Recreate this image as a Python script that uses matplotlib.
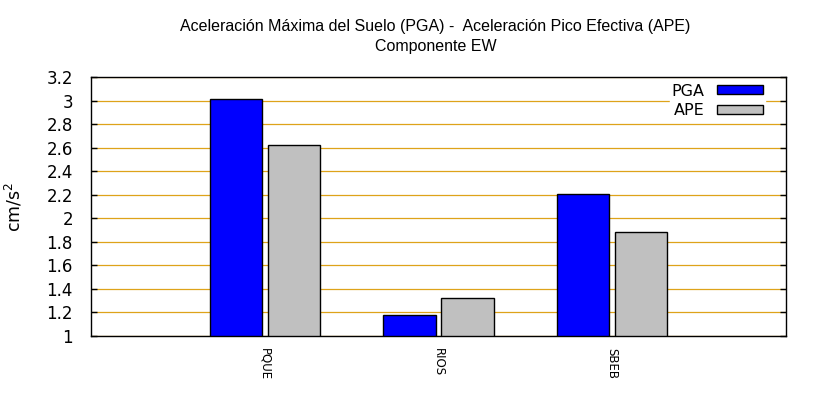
import numpy as np
import matplotlib
matplotlib.use('Agg')
import matplotlib.pyplot as plt
from matplotlib.patches import Patch

stations = ['PQUE', 'RIOS', 'SBEB']
pga = [3.01, 1.18, 2.21]
ape = [2.62, 1.32, 1.88]

fig = plt.figure(figsize=(8.2, 4), dpi=100)
ax = fig.add_axes([91/820, 1-336/400, 695/820, 259/400])

x = np.arange(1, len(stations)+1)
w = 0.3
ax.bar(x - 0.167, np.array(pga) - 1, w, bottom=1, color='#0000ff', edgecolor='black', linewidth=1, zorder=3)
ax.bar(x + 0.167, np.array(ape) - 1, w, bottom=1, color='#c0c0c0', edgecolor='black', linewidth=1, zorder=3)

ax.set_xlim(0, 4)
ax.set_ylim(1, 3.2)
yt = np.round(np.arange(1, 3.21, 0.2), 1)
ax.set_yticks(yt)
ax.set_yticklabels(['%g' % v for v in yt], fontsize=12)
ax.tick_params(axis='y', direction='in', length=4, width=1, right=True, pad=13)
ax.set_xticks(x)
ax.set_xticklabels(stations, rotation=-90, fontsize=8.5, va='top', ha='center')
ax.tick_params(axis='x', length=0, pad=9)
ax.yaxis.grid(True, color='#dea31a', linewidth=0.9, zorder=0)
ax.set_axisbelow(True)
for s in ax.spines.values():
    s.set_linewidth(1)

ax.set_ylabel('cm/s$^2$', fontsize=12.5, labelpad=16)

fig.text(0.531, 1-27/400, u'Aceleración Máxima del Suelo (PGA) -  Aceleración Pico Efectiva (APE)',
         ha='center', va='center', fontsize=11.5, family='Liberation Sans')
fig.text(0.531, 1-46/400, 'Componente EW', ha='center', va='center', fontsize=11.5, family='Liberation Sans')

handles = [Patch(facecolor='#0000ff', edgecolor='black', label='PGA'),
           Patch(facecolor='#c0c0c0', edgecolor='black', label='APE')]
leg = ax.legend(handles=handles, loc='upper right', bbox_to_anchor=(765/820, 1-82/400),
                bbox_transform=fig.transFigure, markerfirst=False, fontsize=11.5,
                handlelength=2.9, handleheight=0.5, labelspacing=0.3,
                frameon=True, fancybox=False, borderaxespad=0.0, borderpad=0.1, handletextpad=0.8)
leg.get_frame().set_edgecolor('white')
leg.get_frame().set_alpha(1)
leg.set_zorder(5)

fig.savefig('out.png', dpi=100)
